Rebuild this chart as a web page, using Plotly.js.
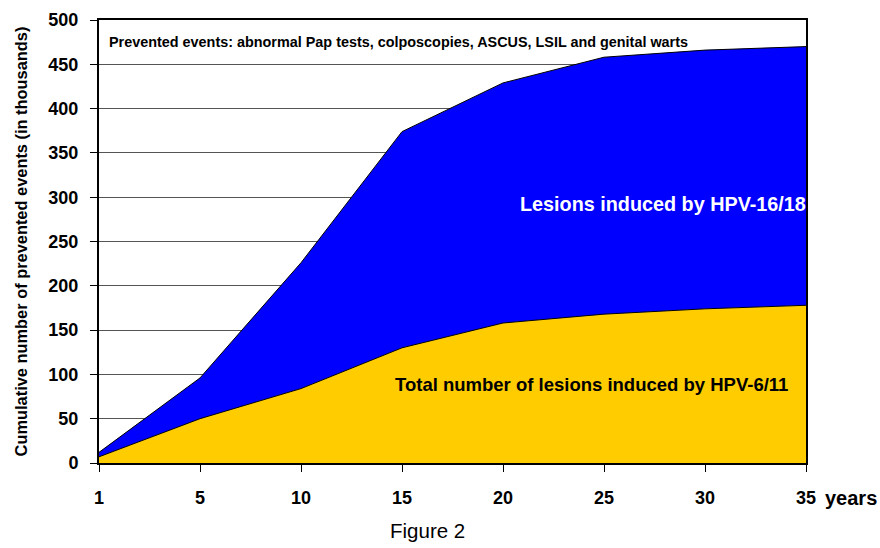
<!DOCTYPE html>
<html>
<head>
<meta charset="utf-8">
<script src="https://cdn.plot.ly/plotly-3.0.1.min.js"></script>
<style>html,body{margin:0;padding:0;background:#fff;}#chart{width:880px;height:548px;}</style>
</head>
<body>
<div id="chart"></div>
<script>
const years = ['1', '5', '10', '15', '20', '25', '30', '35'];
const hpv611 = [7, 50, 84, 130, 158, 168, 174, 178];
const totalAll = [12, 96, 226, 374, 429, 458, 466, 470];
const yTicks = [0, 50, 100, 150, 200, 250, 300, 350, 400, 450, 500];

const FONT = '"Liberation Sans", Arial, sans-serif';

const traces = [
  {
    x: years, y: hpv611, type: 'scatter', mode: 'lines',
    fill: 'tozeroy', fillcolor: '#FFCC00',
    line: {color: '#000', width: 1}, hoverinfo: 'skip', showlegend: false
  },
  {
    x: years, y: totalAll, type: 'scatter', mode: 'lines',
    fill: 'tonexty', fillcolor: '#0000FF',
    line: {color: '#000', width: 1}, hoverinfo: 'skip', showlegend: false
  }
];

const layout = {
  width: 880, height: 548,
  margin: {l: 99, r: 74, t: 20, b: 85},
  paper_bgcolor: '#fff', plot_bgcolor: '#fff',
  font: {family: FONT, color: '#000'},
  xaxis: {
    type: 'category', range: [0, 7],
    showgrid: false, zeroline: false,
    showline: true, linecolor: '#000', linewidth: 2, mirror: true,
    ticks: 'outside', ticklen: 7, tickcolor: '#000', tickwidth: 1,
    ticklabelstandoff: 10,
    tickfont: {family: FONT, size: 18, color: '#000', weight: 'bold'},
    fixedrange: true
  },
  yaxis: {
    range: [0, 500], tickvals: yTicks,
    showgrid: true, gridcolor: '#555', gridwidth: 1,
    zeroline: false,
    showline: true, linecolor: '#000', linewidth: 2, mirror: true,
    ticks: 'outside', ticklen: 7, tickcolor: '#000',
    ticklabelstandoff: 8,
    tickfont: {family: FONT, size: 18, color: '#000', weight: 'bold'},
    title: {text: 'Cumulative number of prevented events (in thousands)', standoff: 17,
            font: {family: FONT, size: 16.4, color: '#000', weight: 'bold'}},
    fixedrange: true
  },
  annotations: [
    {xref: 'paper', yref: 'paper', x: 0.011, y: 0.95, xanchor: 'left', yanchor: 'middle',
     text: 'Prevented events: abnormal Pap tests, colposcopies, ASCUS, LSIL and genital warts',
     showarrow: false, font: {family: FONT, size: 14.4, color: '#000', weight: 'bold'}},
    {xref: 'paper', yref: 'paper', x: 0.798, y: 0.584, xanchor: 'center', yanchor: 'middle',
     text: 'Lesions induced by HPV-16/18',
     showarrow: false, font: {family: FONT, size: 19.8, color: '#fff', weight: 'bold'}},
    {xref: 'paper', yref: 'paper', x: 0.696, y: 0.178, xanchor: 'center', yanchor: 'middle',
     text: 'Total number of lesions induced by HPV-6/11',
     showarrow: false, font: {family: FONT, size: 18.5, color: '#000', weight: 'bold'}},
    {xref: 'paper', yref: 'paper', x: 1.024, y: -0.078, xanchor: 'left', yanchor: 'middle',
     text: 'years',
     showarrow: false, font: {family: FONT, size: 20, color: '#000', weight: 'bold'}},
    {xref: 'paper', yref: 'paper', x: 0.465, y: -0.153, xanchor: 'center', yanchor: 'middle',
     text: 'Figure 2',
     showarrow: false, font: {family: FONT, size: 20.5, color: '#000'}}
  ]
};

Plotly.newPlot('chart', traces, layout, {displayModeBar: false, staticPlot: true});
</script>
</body>
</html>
